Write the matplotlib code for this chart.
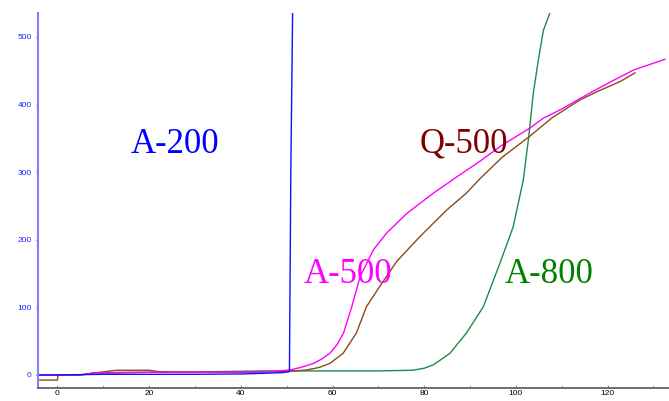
import matplotlib
matplotlib.use("Agg")
import matplotlib.pyplot as plt
from matplotlib.ticker import MultipleLocator

# curve data
a200_x = [-4.2, 0, 5, 10, 20, 30, 40, 45, 49, 50.6, 50.9, 51.3]
a200_y = [0, 0, 0.5, 1, 1, 1, 1.5, 2.5, 3.5, 5, 300, 540]

a500_x = [-4.2, 5, 8, 15, 25, 35, 45, 50.7, 53, 55.8, 57.5, 59.4, 61, 62.4, 64.2, 66,
          68.9, 71.8, 76.2, 82, 87.1, 92.1, 97, 103, 106, 109.6, 116.1, 120.5, 125.6, 132.5]
a500_y = [0, 0, 3, 4, 4, 4, 4.5, 7.4, 11, 17, 23, 32, 45, 62, 101, 145,
          185, 210, 239, 269, 293, 316, 340, 365, 380, 392, 417, 433, 451, 467]

q500_x = [-4.2, 0, 0.1, 5, 8, 13, 20, 22, 30, 40, 50, 54.3, 57, 59.4, 62.3, 65.2, 67.4,
          70.3, 74, 79.1, 84.9, 89.2, 92.1, 97, 103, 107.8, 114, 118, 122.7, 126]
q500_y = [-7.5, -7.5, 0, 0, 3, 7, 7, 5, 4, 4, 5, 7.4, 11, 17, 32, 62, 101,
          131, 168, 205, 244, 269, 290, 322, 353, 380, 407, 420, 434, 447]

a800_x = [-4.2, 5, 8, 13, 20, 35, 45, 50, 60, 70, 77.5, 80, 82, 85.6, 89.2, 92.9, 96.5,
          99.4, 101.6, 102.8, 103.8, 104.9, 106, 107.4]
a800_y = [0, 0, 3, 3, 4, 5, 6, 6, 6, 6, 7, 10, 15, 32, 62, 101, 165,
          219, 288, 352, 417, 466, 510, 535]

labels = ["A-200", "Q-500", "A-500", "A-800"]
label_x = [25.6, 88.6, 63.4, 107.2]
label_y = [329, 329, 135.6, 135.6]
label_colors = ["#0000ff", "#800000", "#ff00ff", "#008000"]

fig = plt.figure(figsize=(6.69, 4.01), dpi=100)
ax = fig.add_axes([0.0568, 0.0332, 0.9432, 0.9344])

ax.plot(a800_x, a800_y, c="#1f8a4c", lw=1.0)
ax.plot(q500_x, q500_y, c="#8b4a1a", lw=1.0)
ax.plot(a500_x, a500_y, c="#ff00ff", lw=1.0)
ax.plot(a200_x, a200_y, c="#1010ff", lw=1.0)

for t, x, y, c in zip(labels, label_x, label_y, label_colors):
    ax.text(x, y, t, color=c, fontsize=25, family="Liberation Serif",
            ha="center", va="baseline")

ax.set_xlim(-4.25, 133.4)
ax.set_ylim(-18.8, 535.5)

ax.spines["top"].set_visible(False)
ax.spines["right"].set_visible(False)
ax.spines["left"].set_color("#8080ff")
ax.spines["left"].set_linewidth(1.5)
ax.spines["bottom"].set_color("#555555")
ax.spines["bottom"].set_linewidth(1.2)

ax.xaxis.set_major_locator(MultipleLocator(20))
ax.xaxis.set_minor_locator(MultipleLocator(10))
ax.yaxis.set_major_locator(MultipleLocator(100))
ax.tick_params(axis="x", which="both", direction="in", length=2, color="#999999",
               labelsize=6, pad=2, labelcolor="black")
ax.tick_params(axis="y", direction="out", length=1.5, color="#4040ff",
               labelsize=6, pad=3, labelcolor="#2020ff")
for lab in ax.get_xticklabels() + ax.get_yticklabels():
    lab.set_family("Liberation Sans")

fig.savefig("out.png", dpi=100)
